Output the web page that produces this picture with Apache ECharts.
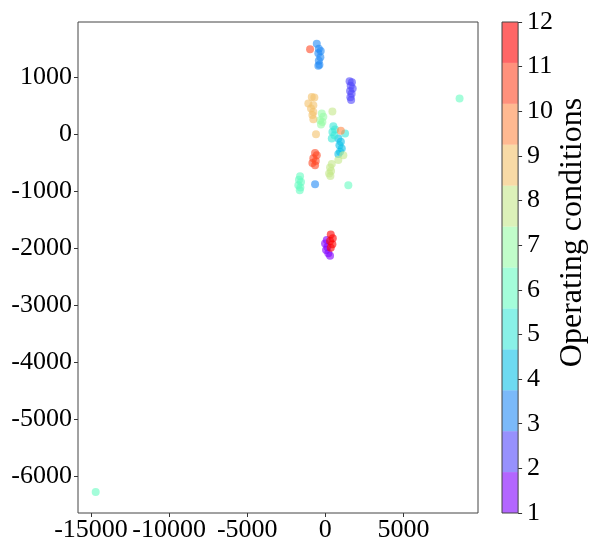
<!DOCTYPE html>
<html><head><meta charset="utf-8">
<script src="https://cdn.jsdelivr.net/npm/echarts@6/dist/echarts.min.js"></script>
<style>html,body{margin:0;padding:0;background:#fff}#c{width:590px;height:543px}</style>
</head><body><div id="c"></div>
<script>
// ---- data ----
const conditions = [1,2,3,4,5,6,7,8,9,10,11,12];
const cond1 = [[90,-1860],[-20,-1920],[130,-1980],[45,-2035],[190,-2090],[300,-2135]];
const cond2 = [[1550,930],[1700,910],[1620,850],[1750,800],[1580,760],[1680,710],[1600,650],[1650,600]];
const cond3 = [[-550,1590],[-420,1500],[-300,1460],[-450,1420],[-320,1350],[-420,1290],[-380,1220],[-450,1200],[-660,-880]];
const cond4 = [[830,-75],[990,-135],[900,-195],[1050,-250],[940,-310],[830,-350]];
const cond5 = [[510,140],[620,80],[450,40],[580,-20],[410,-75],[1260,10]];
const cond6 = [[-1620,-740],[-1690,-800],[-1560,-840],[-1730,-895],[-1600,-935],[-1640,-985],[1470,-895],[8590,625],[-14700,-6285]];
const cond7 = [[-230,365],[-130,305],[-340,245],[-190,215],[-280,170]];
const cond8 = [[450,400],[1150,-370],[830,-455],[410,-525],[300,-585],[365,-645],[240,-690],[320,-735]];
const cond9 = [[-870,655],[-705,645],[-1090,540],[-770,510],[-920,450],[-770,390],[-830,335],[-770,260],[-600,0]];
const cond10 = [[990,60]];
const cond11 = [[-980,1490],[-660,-330],[-550,-370],[-770,-425],[-615,-470],[-830,-505],[-660,-545]];
const cond12 = [[345,-1760],[475,-1830],[300,-1875],[450,-1935],[345,-1995]];
const xTicks = [-15000,-10000,-5000,0,5000];
const yTicks = [-6000,-5000,-4000,-3000,-2000,-1000,0,1000];
const cbTicks = [1,2,3,4,5,6,7,8,9,10,11,12];
const cbLabel = 'Operating conditions';

// ---- style ----
const palette = ['#8000ff','#5148fc','#238af5','#0cc1e8','#3ae8d7','#68fcc1','#97fca7','#c5e88a','#f3c16a','#ff8a48','#ff4824','#ff0000'];
const FONT = '"Liberation Serif", "Times New Roman", serif';
const FS = 26;
const groups = [cond1,cond2,cond3,cond4,cond5,cond6,cond7,cond8,cond9,cond10,cond11,cond12];
const cbMin = cbTicks[0], cbMax = cbTicks[cbTicks.length-1];
const band = (cbMax - cbMin) / conditions.length;

const scatterSeries = groups.map((pts, i) => ({
  type: 'scatter', xAxisIndex: 0, yAxisIndex: 0, data: pts,
  symbolSize: 8, silent: true,
  itemStyle: { color: palette[i], opacity: 0.6 }
}));
const cbSeries = [{
  type: 'bar', xAxisIndex: 1, yAxisIndex: 1, stack: 'cb', data: [cbMin],
  barWidth: '100%', silent: true, itemStyle: { color: 'rgba(0,0,0,0)' }
}].concat(conditions.map((c, i) => ({
  type: 'bar', xAxisIndex: 1, yAxisIndex: 1, stack: 'cb', data: [band],
  barWidth: '100%', silent: true, itemStyle: { color: palette[i], opacity: 0.6 }
})));

const tickStyle = { show: true, inside: false, length: 4, lineStyle: { color: '#333', width: 1 } };
const labelStyle = { color: '#000', fontFamily: FONT, fontSize: FS, formatter: v => String(v) };

const chart = echarts.init(document.getElementById('c'), null, { renderer: 'canvas' });
chart.setOption({
  animation: false,
  backgroundColor: '#fff',
  grid: [
    { left: 78, top: 22, width: 400, height: 491, show: true, borderColor: '#444', borderWidth: 1, backgroundColor: 'rgba(0,0,0,0)', z: 5 },
    { left: 502, top: 22, width: 25, height: 491, show: true, borderColor: '#444', borderWidth: 1, backgroundColor: 'rgba(0,0,0,0)', z: 5 }
  ],
  xAxis: [
    { type: 'value', gridIndex: 0, min: -15833, max: 9769,
      axisLine: { show: false, onZero: false }, splitLine: { show: false },
      axisTick: Object.assign({ customValues: xTicks }, tickStyle),
      axisLabel: Object.assign({ customValues: xTicks, margin: 4 }, labelStyle) },
    { type: 'category', gridIndex: 1, data: ['cb'], show: false }
  ],
  yAxis: [
    { type: 'value', gridIndex: 0, min: -6653, max: 1970,
      axisLine: { show: false, onZero: false }, splitLine: { show: false },
      axisTick: Object.assign({ customValues: yTicks }, tickStyle),
      axisLabel: Object.assign({ customValues: yTicks, margin: 6 }, labelStyle) },
    { type: 'value', gridIndex: 1, position: 'right', min: cbMin, max: cbMax, interval: 1,
      axisLine: { show: false, onZero: false }, splitLine: { show: false },
      axisTick: tickStyle,
      axisLabel: Object.assign({ margin: 9 }, labelStyle),
      name: cbLabel, nameLocation: 'middle', nameRotate: 90, nameGap: 33,
      nameTextStyle: { color: '#000', fontFamily: FONT, fontSize: 32, padding: [0, 0, 0, 70] } }
  ],
  series: scatterSeries.concat(cbSeries)
});
</script></body></html>
